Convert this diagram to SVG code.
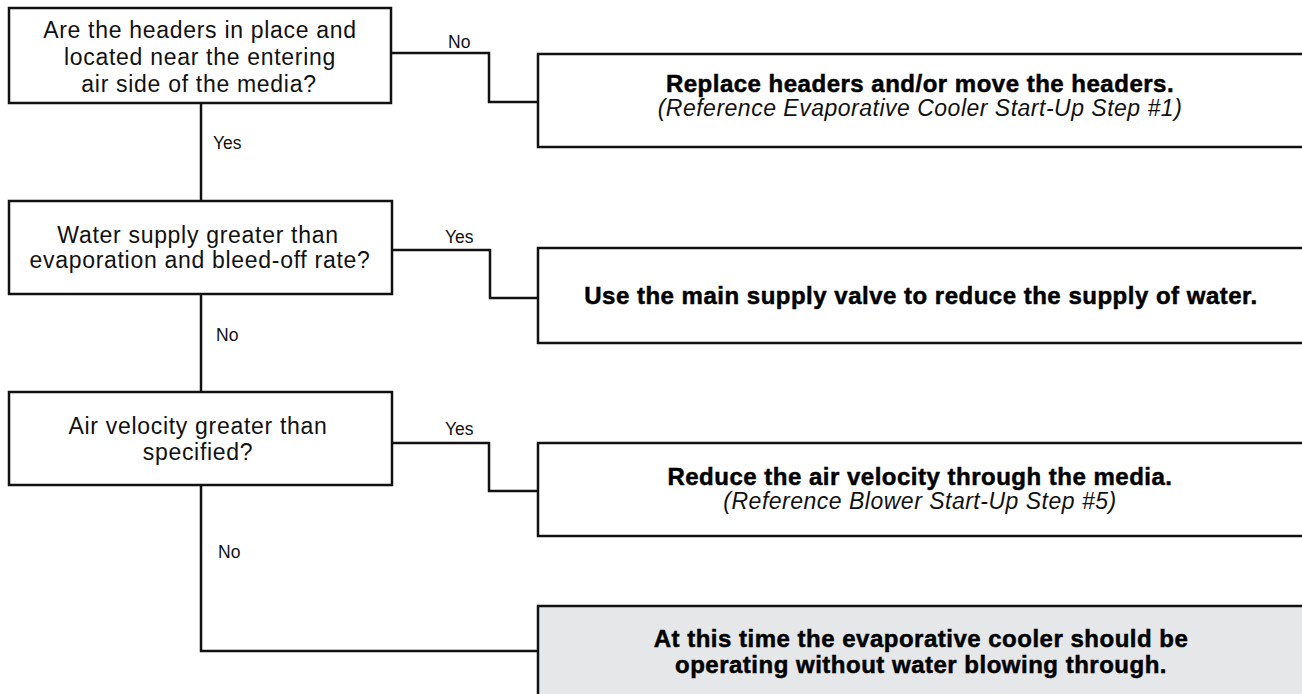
<svg xmlns="http://www.w3.org/2000/svg" width="1302" height="694" viewBox="0 0 1302 694">
<style>
.box{fill:#fff;stroke:#111;stroke-width:2.5}
.final{fill:#e6e7e8;stroke:#111;stroke-width:2.5}
.conn{fill:none;stroke:#111;stroke-width:2.5}
.q{font-family:"Liberation Sans",Arial,sans-serif;font-size:23px;letter-spacing:0.7px;fill:#111;text-anchor:middle}
.a{font-family:"Liberation Sans",Arial,sans-serif;font-size:24px;font-weight:bold;letter-spacing:0.5px;fill:#000;stroke:#000;stroke-width:0.5;text-anchor:middle}
.r{font-family:"Liberation Sans",Arial,sans-serif;font-size:23px;font-style:italic;letter-spacing:0.5px;fill:#111;text-anchor:middle}
.lbl{font-family:"Liberation Sans",Arial,sans-serif;font-size:17.5px;fill:#111}
</style>
<rect width="1302" height="694" fill="#fff"/>
<g id="connectors">
<path class="conn" d="M201,103 V201"/>
<path class="conn" d="M201,294 V392"/>
<path class="conn" d="M201,485 V651 H538"/>
<path class="conn" d="M391,53 H489 V102 H538"/>
<path class="conn" d="M392,250 H490 V298 H538"/>
<path class="conn" d="M392,443 H489 V491 H538"/>
<text class="lbl" x="448" y="48">No</text>
<text class="lbl" x="213" y="149">Yes</text>
<text class="lbl" x="445" y="243">Yes</text>
<text class="lbl" x="216" y="341">No</text>
<text class="lbl" x="445" y="435">Yes</text>
<text class="lbl" x="218" y="558">No</text>
</g>
<g id="q1">
<rect class="box" x="9" y="8" width="382" height="95"/>
<text class="q" x="200" y="38">Are the headers in place and</text>
<text class="q" x="200" y="65">located near the entering</text>
<text class="q" x="199" y="92">air side of the media?</text>
</g>
<g id="q2">
<rect class="box" x="9" y="201" width="383" height="93"/>
<text class="q" x="198" y="243">Water supply greater than</text>
<text class="q" x="200" y="268">evaporation and bleed-off rate?</text>
</g>
<g id="q3">
<rect class="box" x="9" y="392" width="383" height="93"/>
<text class="q" x="198" y="434">Air velocity greater than</text>
<text class="q" x="198" y="460">specified?</text>
</g>
<g id="a1">
<rect class="box" x="538" y="54" width="775" height="93"/>
<text class="a" x="920" y="92">Replace headers and/or move the headers.</text>
<text class="r" x="920" y="116">(Reference Evaporative Cooler Start-Up Step #1)</text>
</g>
<g id="a2">
<rect class="box" x="538" y="248" width="775" height="95"/>
<text class="a" x="921" y="304">Use the main supply valve to reduce the supply of water.</text>
</g>
<g id="a3">
<rect class="box" x="538" y="443" width="775" height="93"/>
<text class="a" x="920" y="485">Reduce the air velocity through the media.</text>
<text class="r" x="920" y="509">(Reference Blower Start-Up Step #5)</text>
</g>
<g id="end">
<rect class="final" x="538" y="606" width="775" height="100"/>
<text class="a" x="921" y="647">At this time the evaporative cooler should be</text>
<text class="a" x="921" y="673">operating without water blowing through.</text>
</g>
</svg>
